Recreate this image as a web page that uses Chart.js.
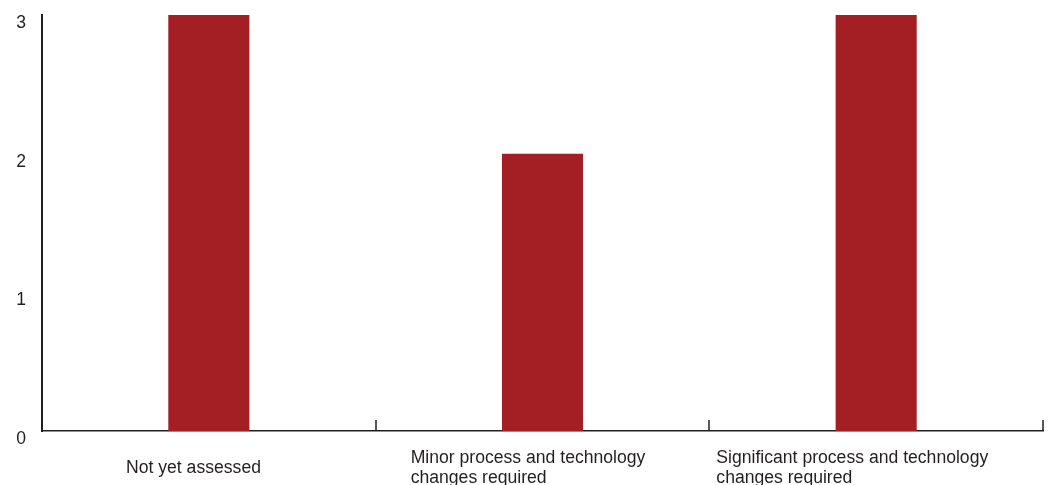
<!DOCTYPE html>
<html>
<head>
<meta charset="utf-8">
<script src="https://cdn.jsdelivr.net/npm/chart.js@4/dist/chart.umd.min.js"></script>
<style>
  html, body { margin: 0; padding: 0; background: #ffffff; }
  #wrap { width: 1051px; height: 485px; position: relative; }
</style>
</head>
<body>
<div id="wrap"><canvas id="chart"></canvas></div>
<script>
// Categories (each entry holds the lines of its axis label)
const categories = [
  ['Not yet assessed'],
  ['Minor process and technology', 'changes required'],
  ['Significant process and technology', 'changes required']
];
// Count per category
const counts = [3, 2, 3];
// Value-axis ticks
const yTicks = [0, 1, 2, 3];

const INK = '#231f20';
const BAR = '#a31f24';
const FONT = '17.6px "Liberation Sans", Arial, Helvetica, sans-serif';

// Left edge of each category label, measured from the start of its band
const labelInset = [84, 35, 7];
const labelAlign = ['left', 'left', 'left'];

const axisDecor = {
  id: 'axisDecor',
  afterDraw(chart) {
    const { ctx, chartArea } = chart;
    const x = chart.scales.x, y = chart.scales.y;
    ctx.save();

    // inward tick marks at the category boundaries
    ctx.strokeStyle = INK;
    ctx.lineWidth = 1.5;
    for (let i = 0; i <= categories.length; i++) {
      const px = Math.round(x.getPixelForValue(i - 0.5));
      ctx.beginPath();
      ctx.moveTo(px, chartArea.bottom);
      ctx.lineTo(px, chartArea.bottom - 11);
      ctx.stroke();
    }

    // value-axis labels, set a little below their values
    ctx.fillStyle = INK;
    ctx.font = FONT;
    ctx.textAlign = 'right';
    ctx.textBaseline = 'middle';
    yTicks.forEach(v => {
      ctx.fillText(String(v), 26, y.getPixelForValue(v) + 8);
    });

    // category labels, each block centred on the same middle line
    ctx.textBaseline = 'alphabetic';
    const lineH = 20;
    const midBase = 473;
    categories.forEach((lines, i) => {
      const left = x.getPixelForValue(i - 0.5) + labelInset[i];
      ctx.textAlign = labelAlign[i];
      const first = midBase - (lines.length - 1) * lineH / 2;
      lines.forEach((t, k) => ctx.fillText(t, left, first + k * lineH));
    });
    ctx.restore();
  }
};

new Chart(document.getElementById('chart'), {
  type: 'bar',
  data: {
    labels: categories,
    datasets: [{
      data: counts,
      backgroundColor: BAR,
      borderWidth: 0,
      categoryPercentage: 1,
      barPercentage: 0.243
    }]
  },
  options: {
    responsive: true,
    maintainAspectRatio: false,
    animation: false,
    events: [],
    layout: { padding: { top: 15, right: 8, left: 0, bottom: 0 } },
    plugins: { legend: { display: false }, tooltip: { enabled: false } },
    scales: {
      x: {
        offset: true,
        grid: { display: false },
        border: { display: true, color: INK, width: 1.5 },
        ticks: { display: false },
        afterFit(s) { s.height = 54; }
      },
      y: {
        min: 0,
        max: 3,
        grid: { display: false },
        border: { display: true, color: INK, width: 2 },
        ticks: { display: false, stepSize: 1 },
        afterFit(s) { s.width = 42; }
      }
    }
  },
  plugins: [axisDecor]
});
</script>
</body>
</html>
